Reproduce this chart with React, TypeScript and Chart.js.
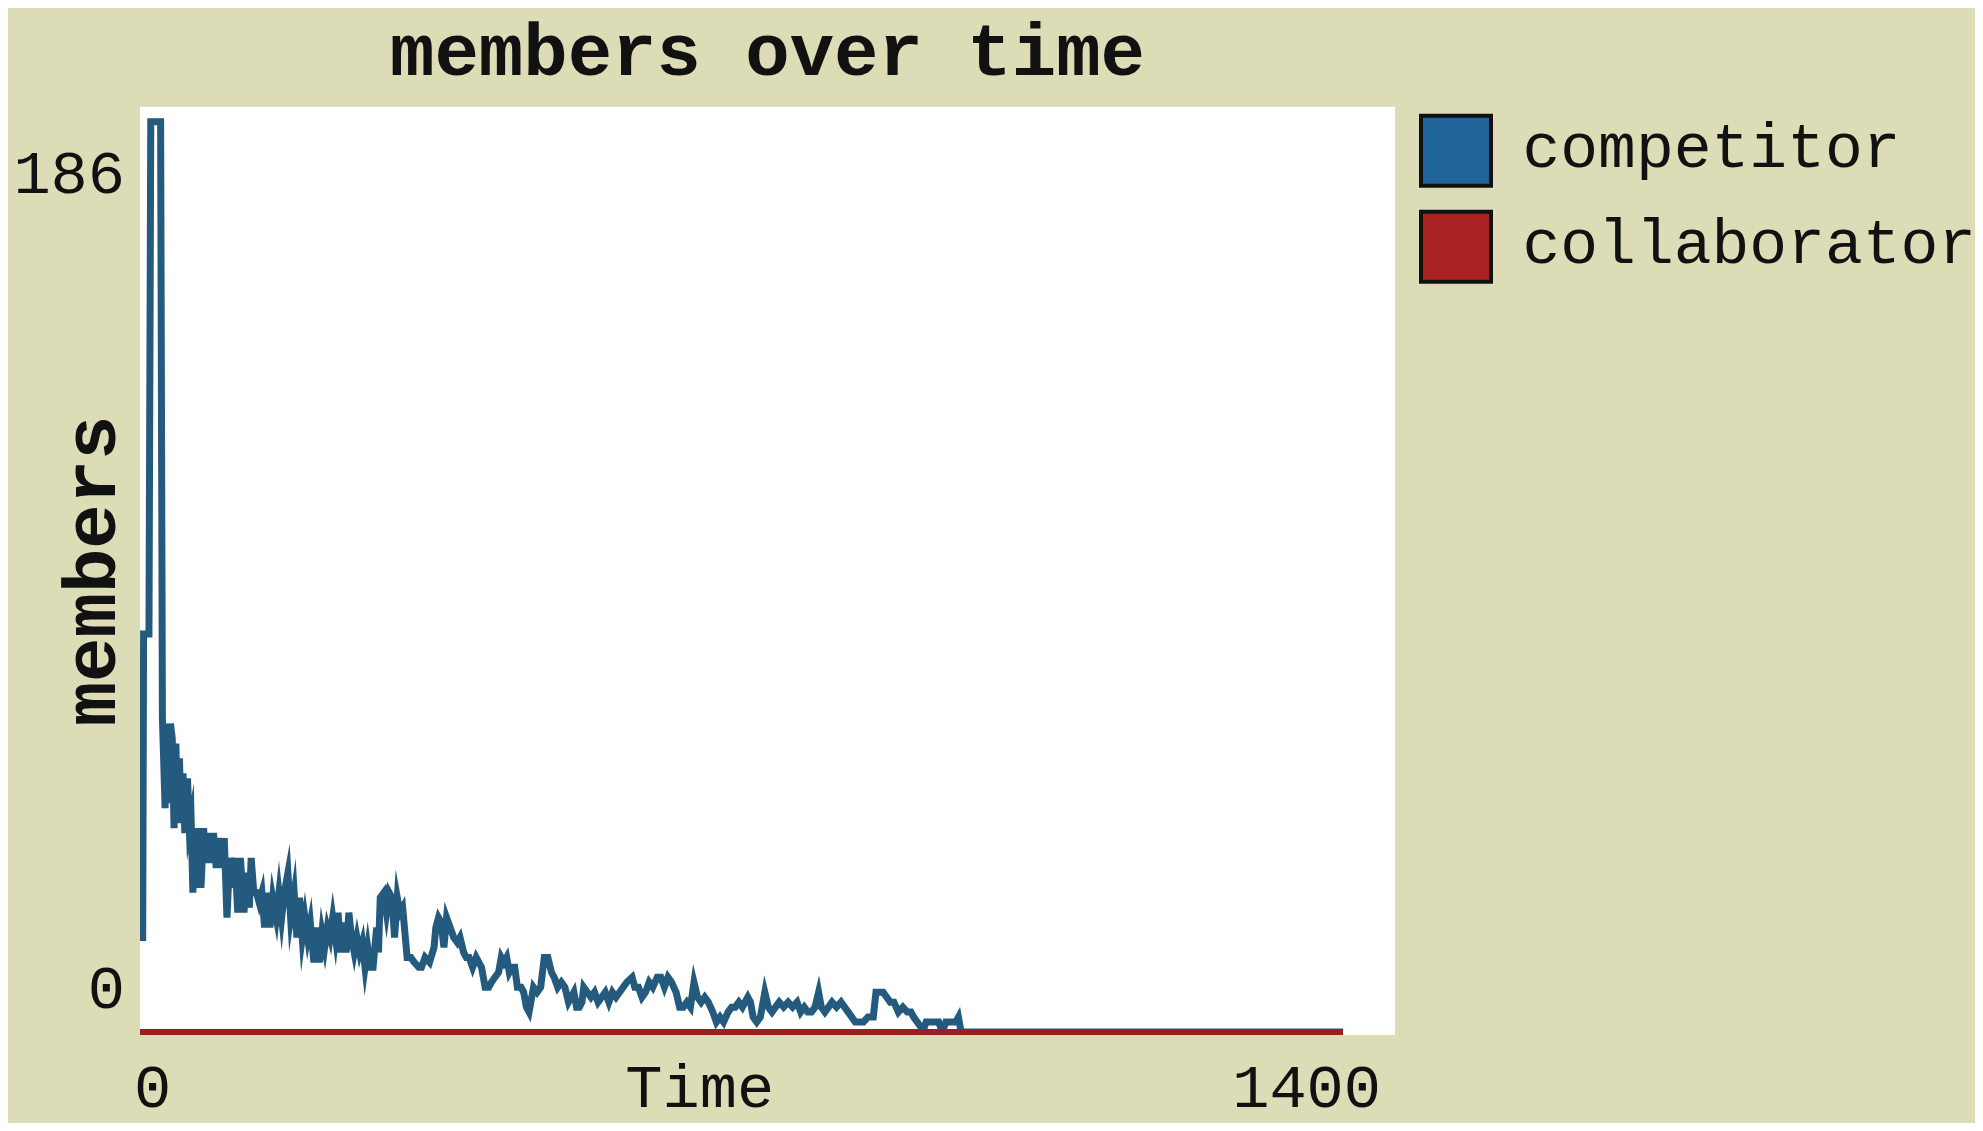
import React, { useEffect, useRef } from 'react';
import { Chart, registerables } from 'chart.js';

Chart.register(...registerables);

// ---------- data ----------
const chartTitle = 'members over time';
const xAxisTitle = 'Time';
const yAxisTitle = 'members';
const seriesNames = ['competitor', 'collaborator'];

const competitorTimes = [
  0, 3, 4, 10, 12, 23, 25, 28, 30, 32,
  34, 36, 38, 40, 42, 44, 46, 48, 50, 53,
  55, 57, 59, 61, 63, 66, 68, 71, 73, 76,
  79, 82, 85, 88, 91, 94, 97, 100, 103, 106,
  109, 112, 116, 119, 122, 124, 127, 130, 133, 136,
  139, 142, 145, 148, 152, 155, 158, 161, 165, 168,
  172, 175, 178, 181, 184, 187, 190, 194, 197, 200,
  203, 206, 209, 212, 215, 218, 221, 224, 227, 230,
  233, 236, 239, 242, 245, 248, 251, 254, 257, 260,
  264, 266, 268, 272, 275, 278, 281, 284, 287, 290,
  293, 298, 302, 306, 311, 314, 318, 323, 328, 330,
  333, 336, 339, 342, 346, 350, 354, 357, 361, 364,
  367, 371, 375, 378, 381, 385, 389, 392, 396, 400,
  403, 406, 409, 412, 415, 418, 421, 425, 428, 431,
  434, 436, 439, 443, 447, 451, 455, 459, 462, 466,
  470, 474, 478, 481, 484, 487, 490, 493, 495, 499,
  503, 507, 511, 515, 519, 523, 527, 531, 535, 539,
  543, 549, 552, 556, 560, 564, 568, 572, 577, 581,
  585, 589, 593, 598, 602, 606, 610, 614, 618, 622,
  626, 630, 634, 639, 643, 647, 651, 656, 660, 664,
  668, 672, 678, 681, 684, 688, 692, 697, 701, 705,
  709, 713, 718, 723, 728, 733, 737, 741, 745, 749,
  753, 757, 760, 764, 768, 772, 777, 782, 786, 790,
  794, 798, 802, 807, 812, 815, 818, 821, 825, 829,
  833, 837, 841, 846, 851, 856, 860, 863, 867, 871,
  875, 877, 891, 893, 897, 899, 910, 913, 916, 918,
  1342,
];
const competitorValues = [
  19, 19, 80, 80, 183, 183, 63, 45, 62, 46,
  62, 59, 41, 58, 42, 55, 42, 52, 40, 51,
  41, 43, 28, 41, 29, 41, 29, 41, 34, 40,
  34, 40, 33, 39, 33, 39, 23, 35, 29, 35,
  24, 35, 24, 32, 25, 35, 28, 28, 26, 28,
  21, 28, 21, 27, 23, 28, 23, 28, 32, 23,
  28, 19, 27, 19, 23, 19, 22, 14, 21, 14,
  20, 17, 21, 19, 23, 19, 24, 16, 22, 16,
  24, 19, 16, 19, 16, 18, 13, 17, 13, 13,
  21, 16, 27, 28, 24, 28, 27, 19, 27, 24,
  25, 15, 15, 14, 13, 13, 15, 14, 17, 21,
  23, 22, 17, 23, 21, 19, 18, 19, 16, 15,
  15, 13, 15, 14, 13, 9, 9, 10, 11, 12,
  15, 14, 15, 12, 13, 13, 9, 9, 8, 5,
  4, 6, 9, 8, 9, 15, 15, 12, 11, 9,
  10, 9, 6, 7, 8, 5, 5, 6, 9, 8,
  7, 8, 6, 7, 8, 6, 8, 7, 8, 9,
  10, 11, 9, 9, 7, 8, 10, 9, 11, 11,
  9, 11, 10, 8, 5, 5, 6, 5, 10, 7,
  6, 7, 6, 4, 2, 3, 2, 4, 5, 5,
  6, 5, 7, 6, 3, 2, 3, 8, 5, 4,
  5, 6, 5, 6, 5, 6, 4, 5, 4, 4,
  5, 8, 5, 4, 5, 6, 5, 6, 5, 4,
  3, 2, 2, 2, 3, 3, 3, 8, 8, 8,
  7, 6, 6, 4, 5, 4, 4, 3, 2, 1,
  1, 2, 2, 1, 1, 2, 2, 3, 0, 0,
  0,
];

const collaboratorTimes = [0, 1342];
const collaboratorValues = [0, 0];

const xTickValues = [0, 1400];
const xTickLabels = ['0', '1400'];
const yTickValues = [186, 0];
const yTickLabels = ['186', '0'];

// ---------- styles ----------
const PANEL_BG = 'rgb(220,220,183)';
const TEXT = '#111111';
const COMP_LINE = '#245a7e';
const COMP_BOX = '#1f6399';
const COLL_LINE = '#9a1f1f';
const COLL_BOX = '#a82222';
const MONO = '"Liberation Mono", "DejaVu Sans Mono", monospace';

const W = 1967;
const H = 1115;

const panelBackground = {
  id: 'panelBackground',
  beforeDraw(chart: any) {
    const { ctx, chartArea, width, height } = chart;
    ctx.save();
    ctx.fillStyle = PANEL_BG;
    ctx.fillRect(0, 0, width, height);
    ctx.fillStyle = '#ffffff';
    ctx.fillRect(chartArea.left, chartArea.top, chartArea.right - chartArea.left, chartArea.bottom - chartArea.top);
    ctx.restore();
  },
};

const legendNudge = {
  id: 'legendNudge',
  afterLayout(chart: any) {
    const lg = chart.legend;
    if (lg) {
      lg.top -= 17;
      lg.bottom -= 17;
    }
  },
};

const axisText = {
  id: 'axisText',
  afterDraw(chart: any) {
    const { ctx, chartArea, scales } = chart;
    const xs = scales.x;
    const ys = scales.y;
    ctx.save();
    ctx.fillStyle = TEXT;
    ctx.font = `62px ${MONO}`;
    ctx.textBaseline = 'middle';
    const rowY = chartArea.bottom + 56;
    xTickValues.forEach((v, i) => {
      const px = xs.getPixelForValue(v);
      if (i === 0) {
        ctx.textAlign = 'left';
        ctx.fillText(xTickLabels[i], px - 6, rowY);
      } else {
        ctx.textAlign = 'right';
        ctx.fillText(xTickLabels[i], px - 14, rowY);
      }
    });
    ctx.textAlign = 'center';
    ctx.fillText(xAxisTitle, chartArea.left + (chartArea.right - chartArea.left) * 0.446, rowY);
    ctx.textAlign = 'right';
    yTickValues.forEach((v, i) => {
      const py = ys.getPixelForValue(v);
      const atTop = v === ys.max;
      ctx.fillText(yTickLabels[i], chartArea.left - 15, atTop ? py + 70 : py - 40);
    });
    ctx.restore();
  },
};

export default function App() {
  const ref = useRef<HTMLCanvasElement | null>(null);

  useEffect(() => {
    if (!ref.current) return;
    const compData = competitorTimes.map((t, i) => ({ x: t, y: competitorValues[i] }));
    const collData = collaboratorTimes.map((t, i) => ({ x: t, y: collaboratorValues[i] }));

    const chart = new Chart(ref.current, {
      type: 'line',
      data: {
        datasets: [
          {
            label: seriesNames[0],
            data: compData,
            borderColor: COMP_LINE,
            backgroundColor: COMP_BOX,
            borderWidth: 7,
            pointRadius: 0,
            tension: 0,
            borderJoinStyle: 'miter',
            borderCapStyle: 'butt',
            fill: false,
            order: 1,
          },
          {
            label: seriesNames[1],
            data: collData,
            borderColor: COLL_LINE,
            backgroundColor: COLL_BOX,
            borderWidth: 6,
            pointRadius: 0,
            tension: 0,
            fill: false,
            order: 0,
          },
        ],
      },
      options: {
        animation: false,
        responsive: false,
        maintainAspectRatio: false,
        devicePixelRatio: 1,
        layout: { padding: 0 },
        events: [],
        scales: {
          x: {
            type: 'linear',
            min: 0,
            max: 1400,
            position: 'bottom',
            grid: { display: false },
            border: { display: false },
            ticks: { display: false },
            afterFit: (s: any) => {
              s.height = 88;
            },
          },
          y: {
            type: 'linear',
            min: -0.6,
            max: 186,
            position: 'left',
            grid: { display: false },
            border: { display: false },
            ticks: { display: false },
            title: {
              display: true,
              text: yAxisTitle,
              color: TEXT,
              font: { family: MONO, size: 74, weight: 'bold' },
              padding: { top: 44, bottom: 0 },
            },
            afterFit: (s: any) => {
              s.width = 132;
            },
          },
        },
        plugins: {
          title: {
            display: true,
            text: chartTitle,
            position: 'top',
            fullSize: false,
            align: 'center',
            color: TEXT,
            font: { family: MONO, size: 74, weight: 'bold' },
            padding: { top: 4, bottom: 6 },
          },
          legend: {
            display: true,
            position: 'right',
            align: 'start',
            fullSize: false,
            maxWidth: 580,
            labels: {
              boxWidth: 70,
              boxHeight: 70,
              padding: 26,
              color: TEXT,
              font: { family: MONO, size: 63 },
              sort: (a: any, b: any) => a.datasetIndex - b.datasetIndex,
              generateLabels: (c: any) =>
                Chart.defaults.plugins.legend.labels.generateLabels(c).map((item: any) => ({
                  ...item,
                  strokeStyle: '#111111',
                  lineWidth: 4,
                })),
            },
          },
          tooltip: { enabled: false },
        },
      },
      plugins: [panelBackground, legendNudge, axisText],
    } as any);

    return () => chart.destroy();
  }, []);

  return (
    <div style={{ width: W, height: H }}>
      <canvas ref={ref} width={W} height={H} style={{ display: 'block', width: W, height: H }} />
    </div>
  );
}
